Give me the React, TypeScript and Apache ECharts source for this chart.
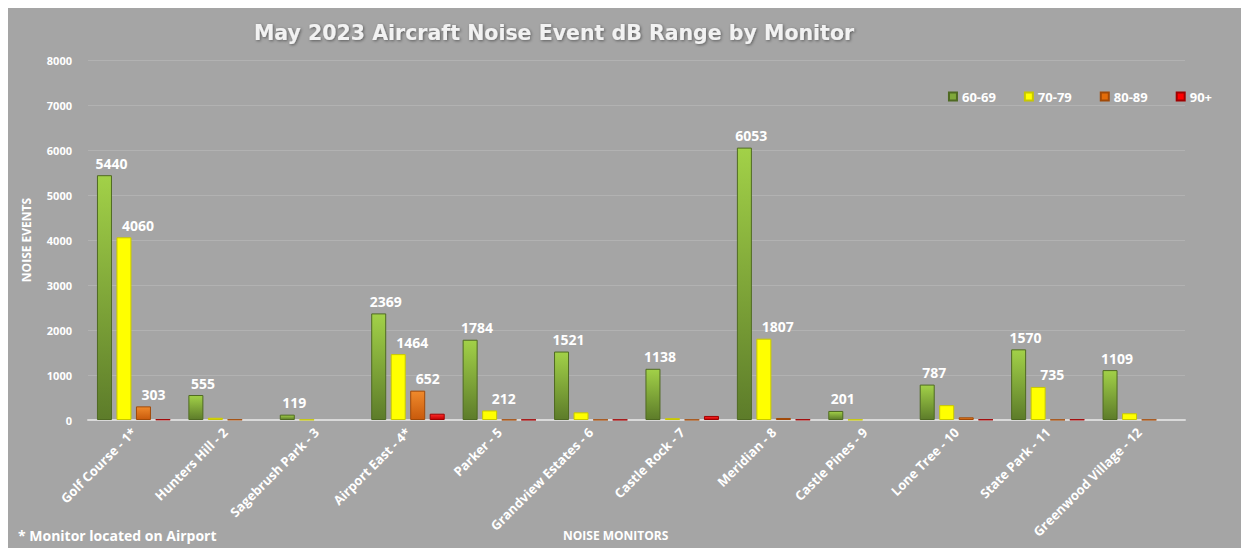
import React, { useEffect, useRef } from "react";
import * as echarts from "echarts";

const monitors = [
  "Golf Course - 1*",
  "Hunters Hill - 2",
  "Sagebrush Park - 3",
  "Airport East - 4*",
  "Parker - 5",
  "Grandview Estates - 6",
  "Castle Rock - 7",
  "Meridian - 8",
  "Castle Pines - 9",
  "Lone Tree - 10",
  "State Park - 11",
  "Greenwood Village - 12",
];

const range60 = [5440, 555, 119, 2369, 1784, 1521, 1138, 6053, 201, 787, 1570, 1109];
const range70 = [4060, 50, 8, 1464, 212, 170, 40, 1807, 8, 330, 735, 150];
const range80 = [303, 10, 0, 652, 6, 6, 6, 45, 0, 60, 6, 6];
const range90 = [12, 0, 0, 140, 6, 6, 90, 10, 0, 10, 10, 0];

const shown60 = [true, true, true, true, true, true, true, true, true, true, true, true];
const shown70 = [true, false, false, true, true, false, false, true, false, false, true, false];
const shown80 = [true, false, false, true, false, false, false, false, false, false, false, false];
const shown90 = [false, false, false, false, false, false, false, false, false, false, false, false];

const seriesNames = ["60-69", "70-79", "80-89", "90+"];
const yTicks = { min: 0, max: 8000, interval: 1000 };

const FONT = "'Open Sans', 'Liberation Sans', sans-serif";

function grad(top: string, bottom: string) {
  return new echarts.graphic.LinearGradient(0, 0, 0, 1, [
    { offset: 0, color: top },
    { offset: 1, color: bottom },
  ]);
}

function makeData(values: number[], shown: boolean[]) {
  return values.map((v, i) => ({
    value: v,
    label: { show: shown[i] },
    itemStyle: v === 0 ? { borderWidth: 0, opacity: 0 } : undefined,
  }));
}

export default function App() {
  const ref = useRef<HTMLDivElement>(null);
  useEffect(() => {
    document.documentElement.style.overflow = "hidden";
    if (!ref.current) return;
    const chart = echarts.init(ref.current, undefined, { renderer: "svg" });
    const labelOffsets = [[7, 0], [14, 0], [10, 0], [0, 0]];
    const styles = [
      { color: grad("#a2d148", "#5d7c2a"), borderColor: "#4f6a22" },
      { color: "#ffff00", borderColor: "#c8c800" },
      { color: grad("#f08a2c", "#c85a0c"), borderColor: "#a14a08" },
      { color: grad("#ff2a2a", "#c00000"), borderColor: "#a00000" },
    ];
    const legendColors = ["#7fa83a", "#ffff00", "#e36c09", "#ff0000"];
    const vals = [range60, range70, range80, range90];
    const shows = [shown60, shown70, shown80, shown90];
    chart.setOption({
      animation: false,
      backgroundColor: "#a5a5a5",
      title: {
        text: "May 2023 Aircraft Noise Event dB Range by Monitor",
        left: 541,
        textAlign: "center",
        top: 9,
        textStyle: {
          color: "#f2f2f2",
          fontSize: 20.5,
          fontWeight: "bold",
          fontFamily: "'DejaVu Sans', sans-serif",
          textShadowColor: "rgba(0,0,0,0.45)",
          textShadowBlur: 3,
          textShadowOffsetX: 1,
          textShadowOffsetY: 1,
        },
      },
      legend: {
        data: seriesNames.map((n, i) => ({ name: n, itemStyle: { color: legendColors[i] } })),
        right: 32,
        top: 77,
        icon: "rect",
        itemWidth: 8,
        itemHeight: 8,
        itemGap: 28,
        textStyle: { color: "#ffffff", fontWeight: "bold", fontSize: 13, fontFamily: FONT },
      },
      grid: { left: 80, right: 64, top: 52, bottom: 128, containLabel: false },
      xAxis: {
        type: "category",
        data: monitors,
        axisLine: { lineStyle: { color: "#d9d9d9", width: 2 } },
        axisTick: { show: false },
        axisLabel: {
          rotate: 45,
          color: "#ffffff",
          fontWeight: "bold",
          fontSize: 13,
          fontFamily: FONT,
          interval: 0,
          margin: 10,
        },
      },
      yAxis: {
        type: "value",
        min: yTicks.min,
        max: yTicks.max,
        interval: yTicks.interval,
        name: "NOISE EVENTS",
        nameLocation: "middle",
        nameGap: 56,
        nameTextStyle: { color: "#ffffff", fontWeight: "bold", fontSize: 12, fontFamily: FONT },
        axisLine: { show: false },
        axisTick: { show: false },
        splitLine: { lineStyle: { color: "#b2b2b2", width: 1 } },
        axisLabel: {
          color: "#ffffff",
          fontWeight: "bold",
          fontSize: 11,
          fontFamily: FONT,
          margin: 16,
          formatter: (v: number) => String(v),
        },
      },
      graphic: [
        {
          type: "text",
          left: 10,
          top: 520,
          style: {
            text: "* Monitor located on Airport",
            fill: "#ffffff",
            font: `bold 14px ${FONT}`,
          },
        },
        {
          type: "text",
          left: 555,
          top: 521,
          style: {
            text: "NOISE MONITORS",
            fill: "#ffffff",
            font: `bold 12px ${FONT}`,
          },
        },
      ],
      series: seriesNames.map((n, i) => ({
        name: n,
        type: "bar",
        barWidth: 15,
        barGap: "30%",
        data: makeData(vals[i], shows[i]),
        itemStyle: { ...styles[i], borderWidth: 1 },
        label: {
          position: "top",
          color: "#ffffff",
          fontWeight: "bold",
          fontSize: 14,
          fontFamily: FONT,
          distance: 5,
          offset: labelOffsets[i],
        },
      })),
    });
    return () => chart.dispose();
  }, []);
  return <div ref={ref} style={{ width: 1241, height: 540 }} />;
}
